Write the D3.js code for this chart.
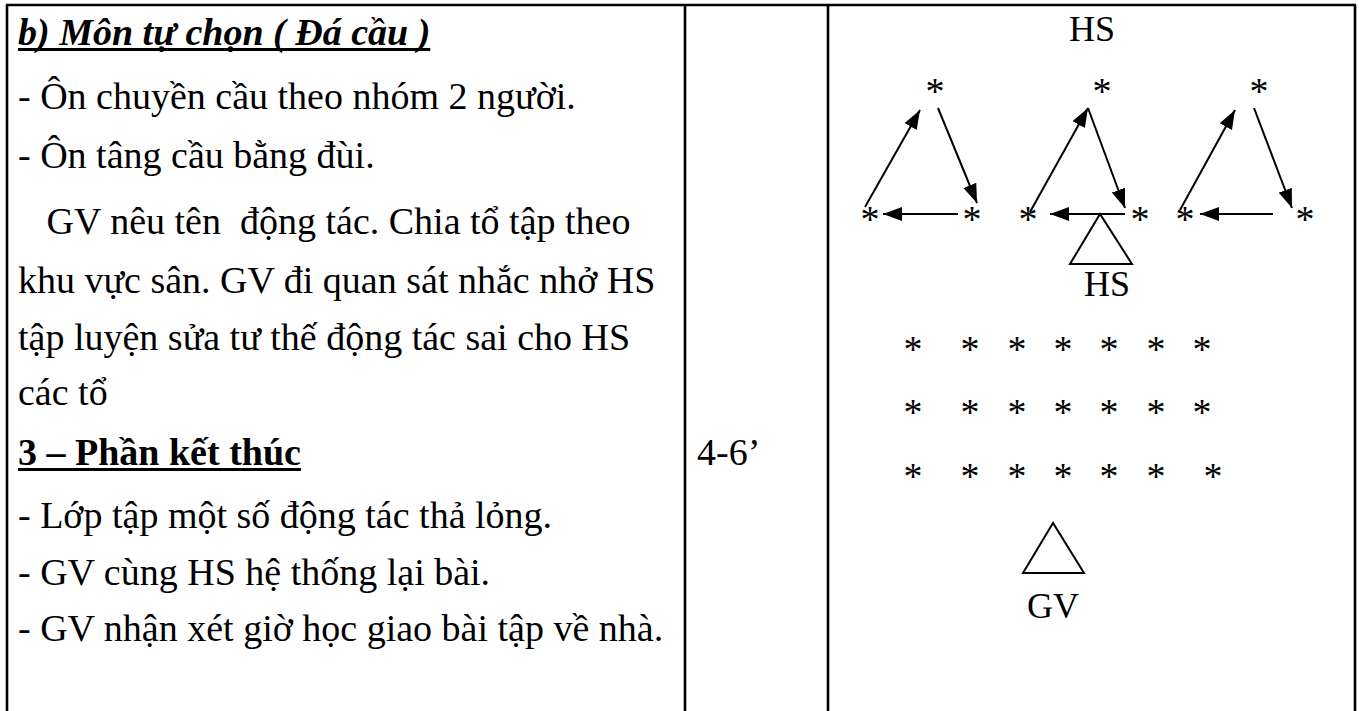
<!DOCTYPE html>
<html lang="vi">
  <head>
    <meta charset="UTF-8" />
    <title>Môn tự chọn - Đá cầu</title>
    <script src="https://d3js.org/d3.v7.min.js"></script>
    <style>
      body {
        margin: 0;
        background: white;
      }
      text {
        font-family: "Liberation Serif", "Times New Roman", serif;
        font-size: 38px;
        fill: black;
        white-space: pre;
      }
      text.star {
        font-size: 38px;
      }
      text.label {
        font-size: 36px;
      }
    </style>
  </head>
  <body>
    <div id="container"></div>
    <script>
      // text of the lesson column
      const lessonLines = [
        "b) Môn tự chọn ( Đá cầu )",
        "- Ôn chuyền cầu theo nhóm 2 người.",
        "- Ôn tâng cầu bằng đùi.",
        "   GV nêu tên  động tác. Chia tổ tập theo",
        "khu vực sân. GV đi quan sát nhắc nhở HS",
        "tập luyện sửa tư thế động tác sai cho HS",
        "các tổ",
        "3 – Phần kết thúc",
        "- Lớp tập một số động tác thả lỏng.",
        "- GV cùng HS hệ thống lại bài.",
        "- GV nhận xét giờ học giao bài tập về nhà."
      ];
      const titleLine = 0;
      const sectionLine = 7;
      const timeLabel = "4-6’";

      // diagram (cell units: x from cell left edge, y from page top)
      const groupTops = [[107, 87], [274, 87], [431, 87]];
      const groupLefts = [[42, 215], [200, 215], [357, 215]];
      const groupRights = [[144, 215], [312, 215], [477, 215]];
      const passArrows = [
        [[37, 207], [92, 110]], [[110, 108], [149, 203]], [[130, 214], [55, 214]],
        [[202, 212], [260, 108]], [[260, 108], [297, 208]], [[297, 214], [222, 214]],
        [[352, 210], [407, 110]], [[426, 108], [464, 208]], [[445, 214], [372, 214]]
      ];
      const gridCols = [85, 142, 189, 235, 281, 328, 374];
      const gridRows = [345, 408, 472];
      const gridLastCol = 385;
      const hsMarker = [[272, 214], [242, 264], [304, 264]];
      const gvMarker = [[225, 523], [195, 573], [256, 573]];
      const labels = [["HS", 264, 41], ["HS", 279, 296], ["GV", 225, 618]];

      const width = 1359;
      const height = 711;
      const cols = [7, 685, 828, 1355];

      const svg = d3
        .select("#container")
        .append("svg")
        .attr("width", width)
        .attr("height", height);

      // baselines of the text rows (paragraph gaps are not even)
      const lineY = d3
        .scaleLinear()
        .domain(d3.range(lessonLines.length))
        .range([45, 109, 168, 234, 293, 350, 405, 465, 528, 585, 641]);
      const dx = d3.scaleLinear().domain([0, cols[3] - cols[2]]).range([cols[2], cols[3]]);
      const dy = d3.scaleLinear().domain([0, height]).range([0, height]);

      // table borders
      const g = svg.append("g").attr("stroke", "black").attr("stroke-width", 2.6);
      g.append("line").attr("x1", cols[0] - 1).attr("x2", cols[3] + 1).attr("y1", 5).attr("y2", 5);
      g.selectAll("line.col")
        .data(cols)
        .enter()
        .append("line")
        .attr("class", "col")
        .attr("x1", (d) => d)
        .attr("x2", (d) => d)
        .attr("y1", 5)
        .attr("y2", height);

      // lesson text
      const txt = svg
        .selectAll("text.lesson")
        .data(lessonLines)
        .enter()
        .append("text")
        .attr("class", "lesson")
        .attr("x", 18)
        .attr("y", (d, i) => lineY(i))
        .style("font-weight", (d, i) => (i == titleLine || i == sectionLine ? "bold" : "normal"))
        .style("font-style", (d, i) => (i == titleLine ? "italic" : "normal"))
        .text((d) => d);

      // underline headings
      txt.filter((d, i) => i == titleLine || i == sectionLine).each(function (d) {
        const w = this.getComputedTextLength();
        const y = +d3.select(this).attr("y");
        svg.append("rect").attr("x", 18).attr("y", y + 3).attr("width", w).attr("height", 3).attr("fill", "black");
      });

      svg.append("text").attr("x", 697).attr("y", lineY(sectionLine)).text(timeLabel);

      // arrowhead
      svg.append("defs")
        .append("marker")
        .attr("id", "head")
        .attr("viewBox", "0 0 10 10")
        .attr("preserveAspectRatio", "none")
        .attr("refX", 10)
        .attr("refY", 5)
        .attr("markerUnits", "userSpaceOnUse")
        .attr("markerWidth", 19)
        .attr("markerHeight", 14)
        .attr("orient", "auto")
        .append("path")
        .attr("d", "M0,0L10,5L0,10Z")
        .attr("fill", "black");

      svg.selectAll("line.pass")
        .data(passArrows)
        .enter()
        .append("line")
        .attr("class", "pass")
        .attr("x1", (d) => dx(d[0][0]))
        .attr("y1", (d) => dy(d[0][1]))
        .attr("x2", (d) => dx(d[1][0]))
        .attr("y2", (d) => dy(d[1][1]))
        .attr("stroke", "black")
        .attr("stroke-width", 2)
        .attr("marker-end", "url(#head)");

      // players (asterisks)
      const stars = groupTops.concat(groupLefts, groupRights);
      gridRows.forEach(function (r, ri) {
        gridCols.forEach(function (c, ci) {
          const last = ri == gridRows.length - 1 && ci == gridCols.length - 1;
          stars.push([last ? gridLastCol : c, r]);
        });
      });
      svg.selectAll("text.star")
        .data(stars)
        .enter()
        .append("text")
        .attr("class", "star")
        .attr("text-anchor", "middle")
        .attr("x", (d) => dx(d[0]))
        .attr("y", (d) => dy(d[1]) + 17)
        .text("*");

      // HS / GV markers
      const tri = d3.line().x((d) => dx(d[0])).y((d) => dy(d[1]));
      svg.selectAll("path.marker")
        .data([hsMarker, gvMarker])
        .enter()
        .append("path")
        .attr("class", "marker")
        .attr("d", (d) => tri(d) + "Z")
        .attr("fill", "none")
        .attr("stroke", "black")
        .attr("stroke-width", 2);

      svg.selectAll("text.label")
        .data(labels)
        .enter()
        .append("text")
        .attr("class", "label")
        .attr("text-anchor", "middle")
        .attr("x", (d) => dx(d[1]))
        .attr("y", (d) => dy(d[2]))
        .text((d) => d[0]);
    </script>
  </body>
</html>
